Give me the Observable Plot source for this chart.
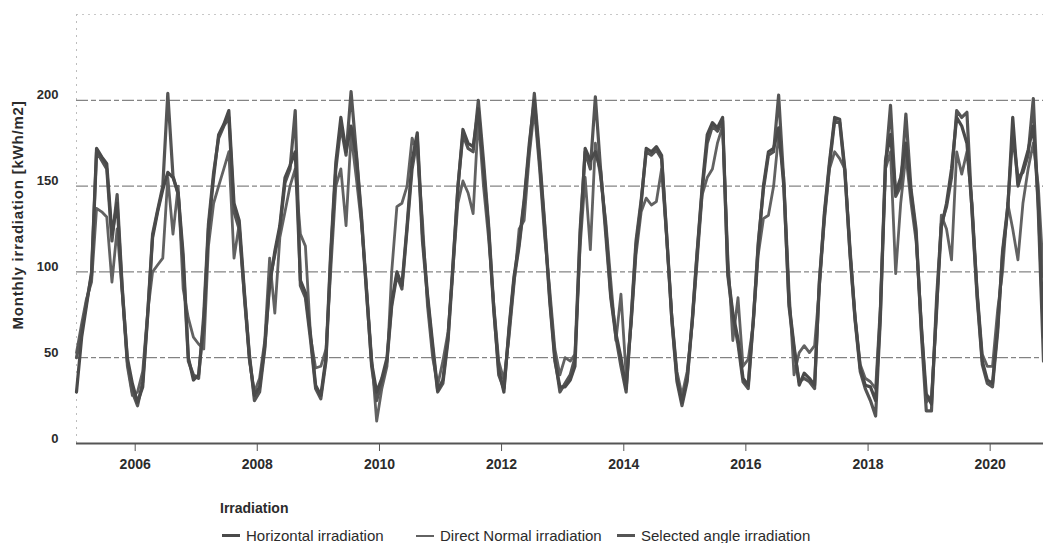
<!DOCTYPE html>
<html>
<head>
<meta charset="utf-8">
<script src="https://cdn.jsdelivr.net/npm/d3@7"></script>
<script src="https://cdn.jsdelivr.net/npm/@observablehq/plot@0.6"></script>
<style>
  html, body { margin: 0; padding: 0; background: #fff; }
  body { font-family: "Liberation Sans", Arial, sans-serif; color: #2b2b2b; }
  #wrap { position: relative; width: 1043px; height: 543px; overflow: hidden; }
  #legend { position: absolute; left: 0; top: 0; width: 1043px; height: 543px; pointer-events: none; }
  #legend .title { position: absolute; left: 220px; top: 500px; font-weight: bold; font-size: 14px; color: #2b2b2b; }
  #legend .item { position: absolute; top: 527px; display: flex; align-items: center; font-size: 15px; color: #2b2b2b; white-space: nowrap; }
  #legend .sw { display: inline-block; width: 18px; margin-right: 6px; }
</style>
</head>
<body>
<div id="wrap">
  <div id="chart"></div>
  <div id="legend"></div>
</div>
<script>
// Monthly values, Jan 2005 .. Nov 2020 (kWh/m2)
const horizontal = [
  30, 62, 80, 100, 172, 167, 163, 122, 140, 90, 50, 35,
  24, 33, 72, 120, 135, 148, 158, 155, 146, 110, 50, 37,
  40, 70, 125, 155, 180, 186, 194, 140, 130, 90, 50, 28,
  33, 57, 92, 112, 127, 155, 162, 170, 95, 88, 63, 34,
  28, 50, 111, 164, 190, 170, 185, 168, 131, 88, 47, 30,
  38, 50, 82, 100, 92, 127, 165, 181, 122, 87, 58, 31,
  37, 62, 103, 149, 183, 175, 173, 195, 160, 126, 78, 43,
  30, 68, 97, 117, 142, 175, 200, 165, 126, 83, 48, 33,
  33, 37, 45, 121, 172, 165, 170, 159, 126, 87, 64, 50,
  32, 73, 115, 140, 172, 170, 173, 168, 121, 73, 38, 24,
  38, 73, 111, 150, 180, 187, 184, 190, 100, 76, 61, 38,
  34, 73, 115, 150, 170, 172, 184, 150, 82, 57, 34, 41,
  38, 34, 92, 135, 164, 190, 189, 160, 111, 73, 44, 34,
  33, 25, 75, 165, 180, 146, 155, 175, 146, 122, 68, 29,
  23, 80, 126, 140, 160, 190, 185, 175, 136, 87, 48, 37,
  35, 68, 110, 136, 190, 150, 160, 171, 185, 140, 62
];
const directNormal = [
  53, 70, 84, 94, 137, 135, 132, 94, 125, 88, 45, 28,
  30, 42, 75, 100, 104, 108, 155, 122, 150, 90, 73, 62,
  58, 55, 115, 140, 150, 160, 170, 108, 128, 85, 48, 30,
  38, 60, 108, 76, 120, 135, 150, 160, 122, 115, 62, 44,
  45, 55, 100, 150, 160, 127, 180, 155, 128, 92, 50, 13,
  32, 45, 100, 138, 140, 150, 178, 170, 130, 80, 50, 34,
  48, 65, 100, 140, 153, 146, 134, 190, 150, 120, 82, 48,
  37, 62, 92, 125, 130, 168, 195, 160, 120, 90, 55, 40,
  50, 48, 52, 115, 155, 113, 175, 155, 130, 95, 60, 87,
  40, 70, 110, 135, 143, 139, 141, 160, 118, 75, 42, 28,
  42, 70, 105, 145, 155, 160, 175, 185, 110, 60, 85, 45,
  49, 70, 110, 131, 133, 150, 180, 155, 90, 40, 53, 57,
  53, 57, 90, 130, 160, 170, 166, 160, 115, 75, 46, 38,
  36, 32, 80, 160, 170, 99, 140, 168, 140, 118, 72, 24,
  28, 75, 133, 125, 107, 170, 157, 170, 140, 90, 52, 45,
  45, 78, 100, 140, 125, 107, 140, 160, 175, 150, 97
];
const selectedAngle = [
  50, 66, 82, 98, 170, 165, 160, 118, 145, 92, 48, 30,
  22, 36, 73, 122, 136, 150, 204, 156, 145, 105, 48, 40,
  38, 75, 128, 158, 178, 185, 190, 135, 125, 88, 52, 25,
  30, 55, 95, 110, 125, 152, 160, 194, 92, 85, 60, 32,
  26, 48, 108, 160, 185, 168, 205, 170, 133, 90, 45, 25,
  36, 48, 80, 98, 90, 125, 160, 178, 118, 85, 55, 30,
  35, 60, 100, 150, 180, 172, 170, 200, 165, 128, 80, 40,
  32, 66, 95, 115, 140, 172, 204, 168, 128, 85, 50, 30,
  35, 40, 50, 125, 170, 160, 202, 160, 122, 85, 62, 45,
  30, 75, 118, 142, 170, 168, 171, 166, 120, 72, 36, 22,
  36, 72, 110, 148, 175, 185, 182, 188, 98, 74, 58, 36,
  32, 72, 117, 148, 168, 170, 203, 152, 80, 55, 36, 38,
  36, 32, 94, 133, 162, 188, 187, 158, 110, 72, 42, 32,
  25, 16, 72, 162, 197, 144, 150, 192, 148, 125, 65, 19,
  19, 85, 128, 138, 155, 194, 190, 193, 134, 85, 46, 35,
  33, 65, 112, 138, 180, 155, 158, 168, 201, 135, 48
];
const seriesNames = ["Horizontal irradiation", "Direct Normal irradiation", "Selected angle irradiation"];
const seriesColors = ["#4a4a4a", "#626262", "#555555"];
const seriesWidths = [3.2, 2.8, 3.2];
const legendSwatchWidths = [3.5, 2, 3.5];
const legendLeft = [222, 416, 617];
const yTicks = [0, 50, 100, 150, 200];
const gridValues = [50, 100, 150, 200];
const xTickYears = [2006, 2008, 2010, 2012, 2014, 2016, 2018, 2020];
const startYear = 2005;
const yTitle = "Monthly irradiation [kWh/m2]";
const legendTitle = "Irradiation";

const allSeries = [horizontal, directNormal, selectedAngle];
const rows = [];
allSeries.forEach((arr, k) => arr.forEach((v, i) => {
  rows.push({date: new Date(Date.UTC(startYear, i, 15)), value: v, series: seriesNames[k]});
}));
const n = horizontal.length;

const lineMarks = [1, 2, 0].map(k => Plot.line(rows.filter(r => r.series === seriesNames[k]), {
  x: "date", y: "value", stroke: seriesColors[k], strokeWidth: seriesWidths[k],
  strokeLinejoin: "round", strokeLinecap: "round"
}));

const chart = Plot.plot({
  width: 1043,
  height: 485,
  marginLeft: 76,
  marginRight: 0,
  marginTop: 14,
  marginBottom: 42,
  style: {fontFamily: '"Liberation Sans", Arial, sans-serif', fontSize: "13px", fontWeight: "bold", color: "#2b2b2b", background: "#fff"},
  x: {type: "utc", domain: [new Date(Date.UTC(startYear, 0, 15)), new Date(Date.UTC(startYear, n - 1, 15))]},
  y: {domain: [0, 250]},
  marks: [
    Plot.ruleY([250], {stroke: "#c8c8c8", strokeDasharray: "2,4"}),
    Plot.ruleX([new Date(Date.UTC(startYear, 0, 15))], {stroke: "#bdbdbd", strokeDasharray: "2,5"}),
    Plot.ruleY(gridValues, {stroke: "#666", strokeWidth: 1, strokeDasharray: "12,3,5,3"}),
    Plot.ruleY([0], {stroke: "#555", strokeWidth: 1.8}),
    ...lineMarks,
    Plot.axisX({
      ticks: xTickYears.map(y => new Date(Date.UTC(y, 0, 1))),
      tickFormat: d3.utcFormat("%Y"),
      tickSize: 8, tickPadding: 8, label: null, stroke: "#555", fontSize: 14
    }),
    Plot.axisY({
      ticks: yTicks, tickSize: 0, tickPadding: 18, dy: -5,
      label: null
    }),
    Plot.text([yTitle], {
      frameAnchor: "left", dx: -58, rotate: -90, fontSize: 15, fontWeight: "bold",
      fill: "#2b2b2b", textAnchor: "middle", dy: -14
    })
  ]
});
document.getElementById("chart").appendChild(chart);
// slight letter spacing on the rotated title to match the scanned width
chart.querySelectorAll("text").forEach(el => { if (el.textContent === yTitle) el.setAttribute("letter-spacing", "0.8"); });

// Legend
const legend = document.getElementById("legend");
const t = document.createElement("div");
t.className = "title";
t.textContent = legendTitle;
legend.appendChild(t);
seriesNames.forEach((name, k) => {
  const it = document.createElement("div");
  it.className = "item";
  it.style.left = legendLeft[k] + "px";
  const sw = document.createElement("span");
  sw.className = "sw";
  sw.style.borderTop = `${legendSwatchWidths[k]}px solid ${seriesColors[k]}`;
  const tx = document.createElement("span");
  tx.textContent = name;
  it.appendChild(sw);
  it.appendChild(tx);
  legend.appendChild(it);
});
</script>
</body>
</html>
